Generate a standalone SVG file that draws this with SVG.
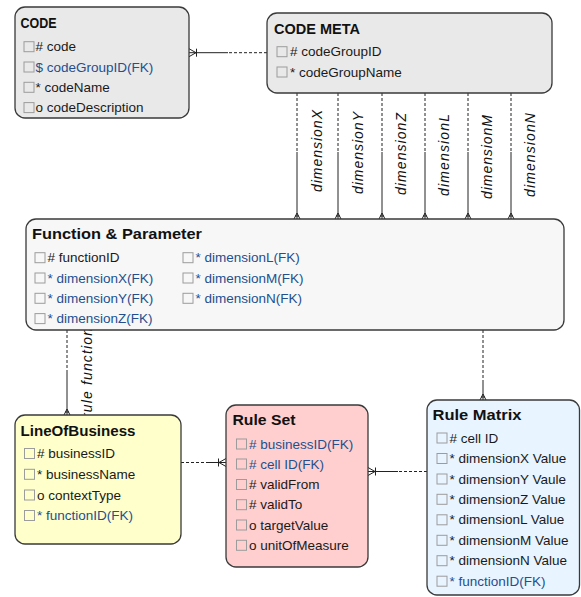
<svg xmlns="http://www.w3.org/2000/svg" width="581" height="597" viewBox="0 0 581 597">
<style>
.box{stroke:#3a3a3a;stroke-width:1.3}
.gray{fill:#e9e9e9}
.light{fill:#f7f7f7}
.yellow{fill:#ffffcc}
.pink{fill:#ffcfcf}
.blue{fill:#e8f4ff}
.title{font-family:"Liberation Sans",Arial,sans-serif;font-weight:bold;font-size:15px;fill:#111}
.t{font-family:"Liberation Sans",Arial,sans-serif;font-size:13.5px;fill:#1a1a1a}
.fk{fill:#234f8e}
.cb{fill:none;stroke:#9c9c9c;stroke-width:1}
.ln{stroke:#222;stroke-width:1;fill:none}
.dash{stroke-dasharray:3 2}
.lbl{font-family:"Liberation Sans",Arial,sans-serif;font-style:italic;font-size:14px;fill:#111}
</style>
<defs>
<marker id="crowBar" viewBox="0 0 10 10" refX="10" refY="5" markerWidth="10" markerHeight="10" markerUnits="userSpaceOnUse" orient="auto">
<path d="M3,5 L10,1 M3,5 L10,9 M2.5,1 L2.5,9" stroke="#222" stroke-width="1" fill="none"/>
</marker>
<marker id="crowS" viewBox="0 0 8 8" refX="8" refY="4" markerWidth="8" markerHeight="8" markerUnits="userSpaceOnUse" orient="auto">
<path d="M2,4 L8,1 M2,4 L8,7 M5,2 L5,6" stroke="#222" stroke-width="1" fill="none"/>
</marker>
</defs>

<g id="connectors">
<!-- CODE - CODE META -->
<line class="ln dash" x1="267" y1="52.7" x2="228" y2="52.7"/>
<line class="ln" x1="228" y1="52.7" x2="189" y2="52.7" marker-end="url(#crowBar)"/>
<!-- dimension lines -->
<g>
<line class="ln dash" x1="297" y1="93" x2="297" y2="152"/><line class="ln" x1="297" y1="152" x2="297" y2="219" marker-end="url(#crowS)"/>
<line class="ln dash" x1="338" y1="93" x2="338" y2="152"/><line class="ln" x1="338" y1="152" x2="338" y2="219" marker-end="url(#crowS)"/>
<line class="ln dash" x1="382" y1="93" x2="382" y2="152"/><line class="ln" x1="382" y1="152" x2="382" y2="219" marker-end="url(#crowS)"/>
<line class="ln dash" x1="425" y1="93" x2="425" y2="152"/><line class="ln" x1="425" y1="152" x2="425" y2="219" marker-end="url(#crowS)"/>
<line class="ln dash" x1="468" y1="93" x2="468" y2="152"/><line class="ln" x1="468" y1="152" x2="468" y2="219" marker-end="url(#crowS)"/>
<line class="ln dash" x1="511" y1="93" x2="511" y2="152"/><line class="ln" x1="511" y1="152" x2="511" y2="219" marker-end="url(#crowS)"/>
<text class="lbl" transform="translate(322,151) rotate(-90)" text-anchor="middle" textLength="82">dimensionX</text>
<text class="lbl" transform="translate(362.5,153) rotate(-90)" text-anchor="middle" textLength="82">dimensionY</text>
<text class="lbl" transform="translate(405.5,154) rotate(-90)" text-anchor="middle" textLength="82">dimensionZ</text>
<text class="lbl" transform="translate(448.5,155) rotate(-90)" text-anchor="middle" textLength="82">dimensionL</text>
<text class="lbl" transform="translate(492,157) rotate(-90)" text-anchor="middle" textLength="84">dimensionM</text>
<text class="lbl" transform="translate(535,155) rotate(-90)" text-anchor="middle" textLength="84">dimensionN</text>
</g>
<!-- rule function -->
<line class="ln dash" x1="67" y1="330" x2="67" y2="370"/>
<line class="ln" x1="67" y1="370" x2="67" y2="415" marker-end="url(#crowS)"/>
<text class="lbl" transform="translate(91.5,373) rotate(-90)" text-anchor="middle" textLength="90">rule function</text>
<!-- F&P - Rule Matrix -->
<line class="ln dash" x1="483" y1="330" x2="483" y2="380"/>
<line class="ln" x1="483" y1="380" x2="483" y2="400" marker-end="url(#crowS)"/>
<!-- LOB - Rule Set -->
<line class="ln dash" x1="181" y1="462.5" x2="206" y2="462.5"/>
<line class="ln" x1="206" y1="462.5" x2="226" y2="462.5" marker-end="url(#crowBar)"/>
<!-- Rule Matrix - Rule Set -->
<line class="ln dash" x1="427" y1="471.5" x2="398" y2="471.5"/>
<line class="ln" x1="398" y1="471.5" x2="368" y2="471.5" marker-end="url(#crowBar)"/>
</g>

<g id="code">
<rect class="box gray" x="15" y="7" width="174" height="111" rx="10"/>
<text class="title" x="20.5" y="27.5" textLength="36" lengthAdjust="spacingAndGlyphs">CODE</text>
<rect class="cb" x="24" y="41.7" width="10" height="10"/><text class="t" x="35.5" y="51.2"># code</text>
<rect class="cb" x="24" y="62" width="10" height="10"/><text class="t fk" x="35.5" y="71.5">$ codeGroupID(FK)</text>
<rect class="cb" x="24" y="82.3" width="10" height="10"/><text class="t" x="35.5" y="91.8">* codeName</text>
<rect class="cb" x="24" y="102.6" width="10" height="10"/><text class="t" x="35.5" y="112.1">o codeDescription</text>
</g>

<g id="code-meta">
<rect class="box gray" x="267" y="13" width="285" height="80" rx="10"/>
<text class="title" x="274" y="33.5" textLength="86" lengthAdjust="spacingAndGlyphs">CODE META</text>
<rect class="cb" x="277" y="46.7" width="10" height="10"/><text class="t" x="290" y="56.2"># codeGroupID</text>
<rect class="cb" x="277" y="67" width="10" height="10"/><text class="t" x="290" y="76.5">* codeGroupName</text>
</g>

<g id="function-parameter">
<rect class="box light" x="26" y="219" width="538" height="111" rx="10"/>
<text class="title" x="32" y="239" textLength="170" lengthAdjust="spacingAndGlyphs">Function &amp; Parameter</text>
<rect class="cb" x="35" y="252.7" width="10" height="10"/><text class="t" x="47.5" y="262.2"># functionID</text>
<rect class="cb" x="35" y="273" width="10" height="10"/><text class="t fk" x="47.5" y="282.5">* dimensionX(FK)</text>
<rect class="cb" x="35" y="293.3" width="10" height="10"/><text class="t fk" x="47.5" y="302.8">* dimensionY(FK)</text>
<rect class="cb" x="35" y="313.6" width="10" height="10"/><text class="t fk" x="47.5" y="323.1">* dimensionZ(FK)</text>
<rect class="cb" x="183" y="252.7" width="10" height="10"/><text class="t fk" x="195.5" y="262.2">* dimensionL(FK)</text>
<rect class="cb" x="183" y="273" width="10" height="10"/><text class="t fk" x="195.5" y="282.5">* dimensionM(FK)</text>
<rect class="cb" x="183" y="293.3" width="10" height="10"/><text class="t fk" x="195.5" y="302.8">* dimensionN(FK)</text>
</g>

<g id="line-of-business">
<rect class="box yellow" x="15" y="415" width="166" height="129" rx="10"/>
<text class="title" x="20.5" y="435.5" textLength="115" lengthAdjust="spacingAndGlyphs">LineOfBusiness</text>
<rect class="cb" x="24.5" y="448.5" width="10" height="10"/><text class="t" x="37" y="458"># businessID</text>
<rect class="cb" x="24.5" y="469.3" width="10" height="10"/><text class="t" x="37" y="478.8">* businessName</text>
<rect class="cb" x="24.5" y="490" width="10" height="10"/><text class="t" x="37" y="499.5">o contextType</text>
<rect class="cb" x="24.5" y="510.5" width="10" height="10"/><text class="t fk" x="37" y="520">* functionID(FK)</text>
</g>

<g id="rule-set">
<rect class="box pink" x="226" y="405" width="142" height="162" rx="10"/>
<text class="title" x="232.5" y="424.5" textLength="63" lengthAdjust="spacingAndGlyphs">Rule Set</text>
<rect class="cb" x="236.5" y="439" width="10" height="10"/><text class="t fk" x="249" y="448.5"># businessID(FK)</text>
<rect class="cb" x="236.5" y="459" width="10" height="10"/><text class="t fk" x="249" y="468.5"># cell ID(FK)</text>
<rect class="cb" x="236.5" y="479.5" width="10" height="10"/><text class="t" x="249" y="489"># validFrom</text>
<rect class="cb" x="236.5" y="499.7" width="10" height="10"/><text class="t" x="249" y="509.2"># validTo</text>
<rect class="cb" x="236.5" y="520" width="10" height="10"/><text class="t" x="249" y="529.5">o targetValue</text>
<rect class="cb" x="236.5" y="540.3" width="10" height="10"/><text class="t" x="249" y="549.8">o unitOfMeasure</text>
</g>

<g id="rule-matrix">
<rect class="box blue" x="427" y="400" width="152.5" height="195" rx="10"/>
<text class="title" x="432.5" y="419.5" textLength="89" lengthAdjust="spacingAndGlyphs">Rule Matrix</text>
<rect class="cb" x="437" y="433" width="10" height="10"/><text class="t" x="449.5" y="442.5"># cell ID</text>
<rect class="cb" x="437" y="453.5" width="10" height="10"/><text class="t" x="449.5" y="463">* dimensionX Value</text>
<rect class="cb" x="437" y="474" width="10" height="10"/><text class="t" x="449.5" y="483.5">* dimensionY Vaule</text>
<rect class="cb" x="437" y="494.3" width="10" height="10"/><text class="t" x="449.5" y="503.8">* dimensionZ Value</text>
<rect class="cb" x="437" y="514.8" width="10" height="10"/><text class="t" x="449.5" y="524.3">* dimensionL Value</text>
<rect class="cb" x="437" y="535.3" width="10" height="10"/><text class="t" x="449.5" y="544.8">* dimensionM Value</text>
<rect class="cb" x="437" y="555.7" width="10" height="10"/><text class="t" x="449.5" y="565.2">* dimensionN Value</text>
<rect class="cb" x="437" y="576.2" width="10" height="10"/><text class="t fk" x="449.5" y="585.7">* functionID(FK)</text>
</g>
</svg>
